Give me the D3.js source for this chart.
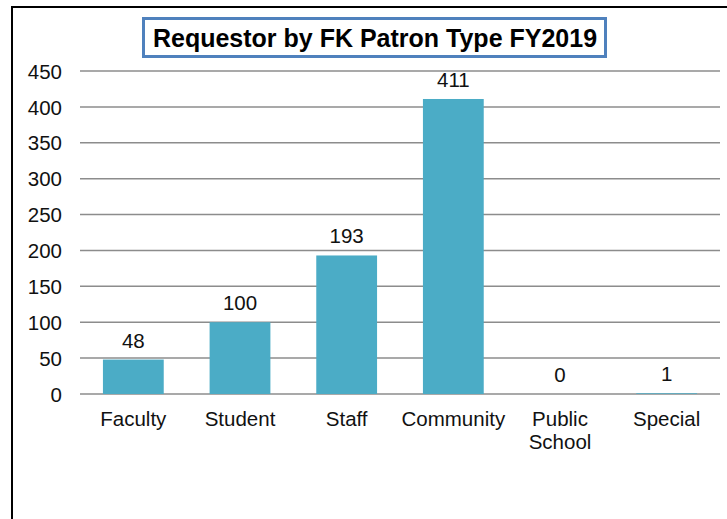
<!DOCTYPE html>
<html><head><meta charset="utf-8">
<script src="https://cdn.jsdelivr.net/npm/d3@7"></script>
<style>body{margin:0;background:#fff}svg{display:block}text{font-family:Arial,"Liberation Sans",sans-serif}</style>
</head><body><svg id="c" width="727" height="519"></svg>
<script>
const categories = ["Faculty","Student","Staff","Community","Public School","Special"];
const values = [48,100,193,411,0,1];
const yTicks = [0,50,100,150,200,250,300,350,400,450];
const title = "Requestor by FK Patron Type FY2019";

const svg = d3.select("#c");
const FS = 20.5;
// outer frame
svg.append("path").attr("d",`M12,519 V7 H727`).attr("fill","none").attr("stroke","#000").attr("stroke-width",2);

const x = d3.scaleBand().domain(categories).range([80,720]).paddingInner(0.43).paddingOuter(0.215);
const y = d3.scaleLinear().domain([0,450]).range([394,71]);

const grid = svg.append("g");
grid.selectAll("line").data(yTicks).join("line")
  .attr("x1",80).attr("x2",720).attr("y1",d=>y(d)).attr("y2",d=>y(d))
  .attr("stroke","#8c8c8c").attr("stroke-width",1.5);

const yAxis = d3.axisLeft(y).tickValues(yTicks).tickSize(0).tickPadding(0);
const ga = svg.append("g").attr("transform","translate(62,0)").call(yAxis);
ga.select(".domain").remove();
ga.selectAll("text").attr("font-size",FS).attr("fill","#111").attr("font-family","Arial, 'Liberation Sans', sans-serif").attr("dy","0.35em");

svg.append("g").selectAll("rect").data(values).join("rect")
  .attr("x",(d,i)=>x(categories[i])).attr("width",x.bandwidth())
  .attr("y",d=>y(d)).attr("height",d=>y(0)-y(d)).attr("fill","#4BACC6");

svg.append("g").selectAll("text").data(values).join("text")
  .attr("x",(d,i)=>x(categories[i])+x.bandwidth()/2).attr("y",d=>y(d)-12)
  .attr("text-anchor","middle").attr("font-size",FS).attr("fill","#111").text(d=>d);

const xl = svg.append("g");
categories.forEach((c,i)=>{
  const words = c === "Public School" ? ["Public","School"] : [c];
  const t = xl.append("text").attr("x",x(c)+x.bandwidth()/2).attr("y",426)
    .attr("text-anchor","middle").attr("font-size",FS).attr("fill","#111");
  words.forEach((w,j)=>t.append("tspan").attr("x",x(c)+x.bandwidth()/2).attr("dy",j?23:0).text(w));
});

// title box
svg.append("rect").attr("x",143.5).attr("y",18.5).attr("width",462).attr("height",38)
  .attr("fill","#fff").attr("stroke","#4F81BD").attr("stroke-width",3);
svg.append("text").attr("x",375).attr("y",46.5).attr("text-anchor","middle")
  .attr("font-size",25).attr("font-weight","bold").attr("fill","#000").text(title);
</script></body></html>
